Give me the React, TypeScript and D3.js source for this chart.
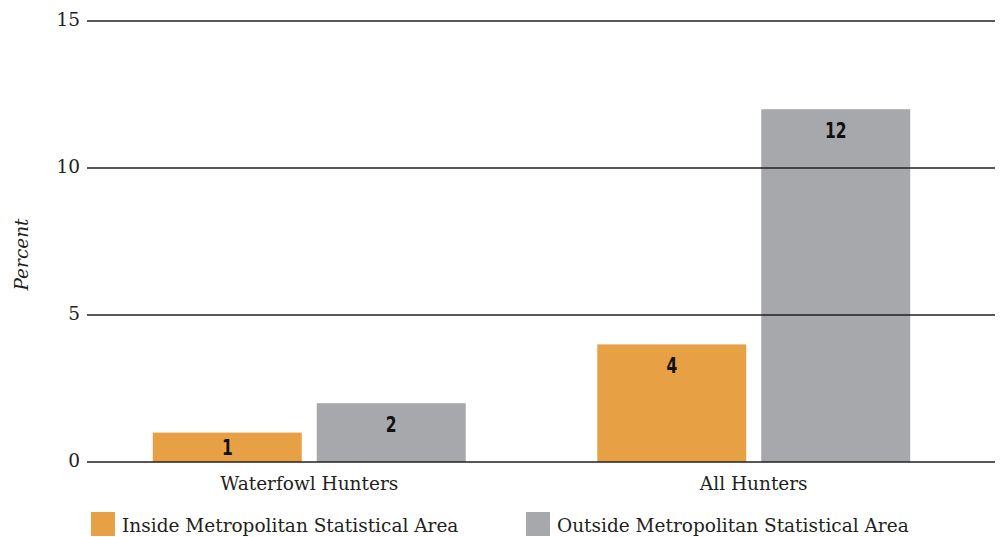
import React from "react";
import * as d3 from "d3";

// Hunters by residence, percent
const categories = ["Waterfowl Hunters", "All Hunters"];
const seriesNames = ["Inside Metropolitan Statistical Area", "Outside Metropolitan Statistical Area"];
const insideValues = [1, 4];
const outsideValues = [2, 12];
const yTicks = [0, 5, 10, 15];
const seriesColors = ["#E8A045", "#A7A8AC"];

const WIDTH = 1002;
const HEIGHT = 537;
const SERIF = "'DejaVu Serif', serif";
const LABEL_FONT = "'DejaVu Sans Condensed', 'DejaVu Sans', sans-serif";
const INK = "#231f20";

export default function App() {
  const x0 = d3.scaleBand<string>().domain(categories).range([87, 976]).paddingInner(0.296).paddingOuter(0.148);
  const x1 = d3.scaleBand<string>().domain(seriesNames).range([0, x0.bandwidth()]).paddingInner(0.0915);
  const y = d3.scaleLinear().domain([0, 15]).range([462, 21]);

  const rows = categories.map((c, i) => ({
    category: c,
    values: [insideValues[i], outsideValues[i]],
  }));

  return (
    <svg width={WIDTH} height={HEIGHT} style={{ position: "absolute", left: 0, top: 0, display: "block" }}>
      <rect width={WIDTH} height={HEIGHT} fill="#fff" />
      {/* bars */}
      {rows.map((r) =>
        r.values.map((v, j) => {
          const bx = (x0(r.category) ?? 0) + (x1(seriesNames[j]) ?? 0);
          const top = y(v);
          const h = y(0) - top;
          const ly = Math.min(top + 28.5, top + h / 2 + 7.5);
          return (
            <g key={r.category + j}>
              <rect x={bx} y={top} width={x1.bandwidth()} height={h} fill={seriesColors[j]} />
              {/* condensed bold value label */}
              <text
                transform={`translate(${bx + x1.bandwidth() / 2}, ${ly}) scale(0.82, 1)`}
                textAnchor="middle"
                fontFamily={LABEL_FONT}
                fontWeight="bold"
                fontSize={21}
                fill="#111"
              >
                {v}
              </text>
            </g>
          );
        })
      )}
      {/* gridlines drawn over the bars */}
      {yTicks.map((t) => (
        <g key={t}>
          <line x1={87} x2={995} y1={y(t)} y2={y(t)} stroke={INK} strokeWidth={1.3} />
          <text x={80} y={y(t) + 5} textAnchor="end" fontFamily={SERIF} fontSize={18.5} fill={INK}>
            {t}
          </text>
        </g>
      ))}
      {/* axis title */}
      <text
        transform={`translate(28, 254.5) rotate(-90)`}
        textAnchor="middle"
        fontFamily={SERIF}
        fontStyle="italic"
        fontSize={18.5}
        fill={INK}
      >
        Percent
      </text>
      {/* category labels */}
      {categories.map((c) => (
        <text
          key={c}
          x={(x0(c) ?? 0) + x0.bandwidth() / 2}
          y={489.5}
          textAnchor="middle"
          fontFamily={SERIF}
          fontSize={18.5}
          fill={INK}
        >
          {c}
        </text>
      ))}
      {/* legend */}
      {seriesNames.map((s, j) => {
        const lx = [91, 526][j];
        return (
          <g key={s}>
            <rect x={lx} y={512} width={24} height={24} fill={seriesColors[j]} />
            <text x={lx + 31} y={532} fontFamily={SERIF} fontSize={18.5} fill={INK}>
              {s}
            </text>
          </g>
        );
      })}
    </svg>
  );
}
